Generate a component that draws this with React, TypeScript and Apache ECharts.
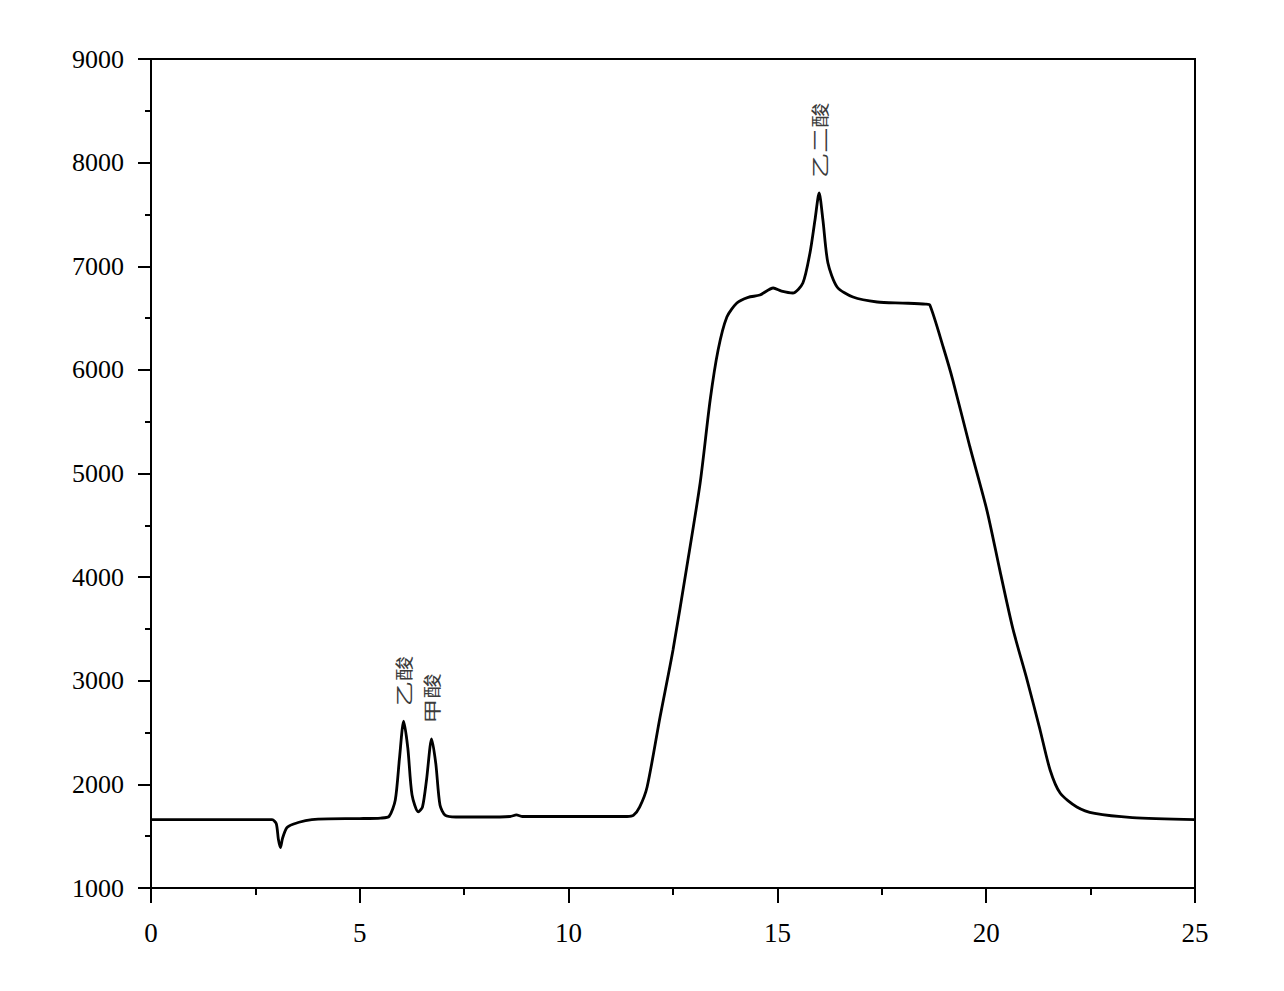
import React, { useEffect, useRef } from "react";
import * as echarts from "echarts";

const timeMin: number[] = [
  0, 1, 2, 2.9, 3.0, 3.05, 3.1, 3.15, 3.25, 3.4, 3.7, 4.0, 5.0, 5.5, 5.7, 5.85, 5.95, 6.05, 6.15,
  6.25, 6.4, 6.5, 6.6, 6.72, 6.82, 6.92, 7.05, 7.3, 8.0, 8.6, 8.75, 8.9, 10, 11.4, 11.55, 11.7,
  11.88, 12.19, 12.5, 12.83, 13.15, 13.39, 13.58, 13.79, 14.03, 14.3, 14.58, 14.9, 15.1, 15.37,
  15.61, 15.78, 15.9, 16.0, 16.09, 16.21, 16.43, 16.81, 17.39, 18.0, 18.55, 18.65, 18.97, 19.2,
  19.61, 20.02, 20.33, 20.64, 20.98, 21.29, 21.53, 21.77, 22.17, 22.6, 23.5, 25,
];

const signal: number[] = [
  1660, 1660, 1660, 1660, 1620, 1470, 1390, 1480, 1580, 1615, 1650, 1665, 1670, 1675, 1690, 1850,
  2250, 2610, 2350, 1900, 1735, 1780, 2050, 2440, 2200, 1800, 1700, 1685, 1685, 1690, 1705, 1690,
  1690, 1690, 1700, 1780, 1975, 2650, 3297, 4098, 4908, 5709, 6192, 6510, 6645, 6700, 6722, 6790,
  6760, 6742, 6838, 7128, 7446, 7707, 7446, 7031, 6800, 6703, 6655, 6645, 6635, 6626, 6221, 5902,
  5256, 4640, 4060, 3500, 3007, 2525, 2139, 1917, 1782, 1720, 1680, 1660,
];

const peakNames: string[] = ["乙酸", "甲酸", "乙二酸"];
const peakTimes: number[] = [6.05, 6.72, 16.0];
const peakValues: number[] = [2610, 2440, 7707];

const xTicks = { min: 0, max: 25, interval: 5 };
const yTicks = { min: 1000, max: 9000, interval: 1000 };

export default function App() {
  const ref = useRef<HTMLDivElement>(null);

  useEffect(() => {
    if (!ref.current) return;
    const chart = echarts.init(ref.current, undefined, { renderer: "svg" });
    const data = timeMin.map((t, i) => [t, signal[i]]);
    const serif = "'Liberation Serif', 'Times New Roman', serif";
    chart.setOption({
      animation: false,
      backgroundColor: "#fff",
      grid: {
        left: 151,
        right: 89,
        top: 59,
        bottom: 103,
        show: true,
        borderColor: "#000",
        borderWidth: 2,
        backgroundColor: "transparent",
      },
      xAxis: {
        type: "value",
        min: xTicks.min,
        max: xTicks.max,
        interval: xTicks.interval,
        axisLine: { show: true, onZero: false, lineStyle: { color: "#000", width: 2 } },
        axisTick: { show: true, inside: false, length: 15, lineStyle: { color: "#000", width: 2 } },
        minorTick: { show: true, splitNumber: 2, length: 7, lineStyle: { color: "#000", width: 2 } },
        splitLine: { show: false },
        minorSplitLine: { show: false },
        axisLabel: {
          fontFamily: serif,
          fontSize: 27,
          color: "#000",
          margin: 31,
          formatter: (v: number) => String(v),
        },
      },
      yAxis: {
        type: "value",
        min: yTicks.min,
        max: yTicks.max,
        interval: yTicks.interval,
        axisLine: { show: true, lineStyle: { color: "#000", width: 2 } },
        axisTick: { show: true, inside: false, length: 13, lineStyle: { color: "#000", width: 2 } },
        minorTick: { show: true, splitNumber: 2, length: 6, lineStyle: { color: "#000", width: 2 } },
        splitLine: { show: false },
        minorSplitLine: { show: false },
        axisLabel: {
          fontFamily: serif,
          fontSize: 26,
          color: "#000",
          margin: 27,
          formatter: (v: number) => String(v),
        },
      },
      series: [
        {
          type: "line",
          data,
          smooth: 0.25,
          symbol: "none",
          lineStyle: { color: "#000", width: 2.8 },
        },
      ],
    });

    const graphics = peakNames.map((name, i) => {
      const p = chart.convertToPixel({ gridIndex: 0 }, [peakTimes[i], peakValues[i]]) as number[];
      return {
        type: "text",
        x: p[0],
        y: p[1] - 15,
        rotation: Math.PI / 2,
        scaleX: 1.4,
        style: {
          text: name,
          fill: "#3c3c3c",
          font: "18px 'Noto Sans CJK SC', sans-serif",
          align: "left",
          verticalAlign: "middle",
        },
      };
    });
    chart.setOption({ graphic: graphics });

    return () => chart.dispose();
  }, []);

  return (
    <div
      ref={ref}
      style={{ position: "fixed", left: 0, top: 0, width: 1284, height: 991, background: "#fff" }}
    />
  );
}
